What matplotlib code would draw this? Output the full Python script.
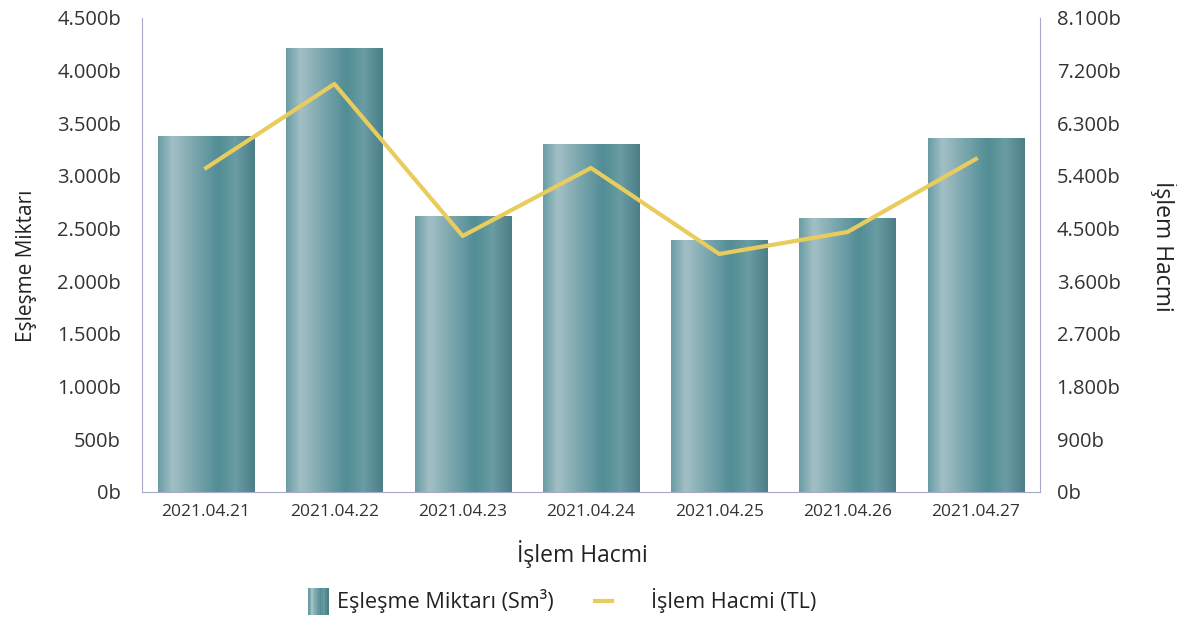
import matplotlib.pyplot as plt
import numpy as np
from matplotlib.colors import LinearSegmentedColormap
from matplotlib.legend_handler import HandlerBase
from matplotlib.patches import Rectangle
from matplotlib.lines import Line2D
from matplotlib.ticker import FuncFormatter

plt.rcParams['font.family'] = ['Open Sans', 'Noto Sans', 'DejaVu Sans']

dates = ['2021.04.21', '2021.04.22', '2021.04.23', '2021.04.24',
         '2021.04.25', '2021.04.26', '2021.04.27']
eslesme = [3380, 4215, 2620, 3304, 2392, 2601, 3361]
islem = [5537, 6972, 4375, 5537, 4067, 4443, 5690]

grad_colors = ['#6a9ca4', '#a2c0c6', '#7aa6ad', '#528d95', '#6a9ca3', '#4b7f87']
grad_cmap = LinearSegmentedColormap.from_list('bar', list(zip([0, 0.15, 0.38, 0.62, 0.8, 1.0], grad_colors)))
axis_color = '#a8a8cc'
line_color = '#e8cd5e'


def fmt(v, pos):
    return '{:,.0f}b'.format(v).replace(',', '.')


class GradientHandler(HandlerBase):
    def create_artists(self, legend, orig_handle, xdescent, ydescent, width, height, fontsize, trans):
        n = 14
        w = height * 1.32
        x0 = width - w - xdescent
        arts = []
        for i in range(n):
            r = Rectangle((x0 + i * w / n, -ydescent - 5), w / n + 0.3, height + 9,
                          facecolor=grad_cmap(i / (n - 1)), edgecolor='none', transform=trans)
            arts.append(r)
        return arts


class ShortLineHandler(HandlerBase):
    def create_artists(self, legend, orig_handle, xdescent, ydescent, width, height, fontsize, trans):
        y = height / 2 - ydescent
        ln = Line2D([-xdescent, -xdescent + width * 0.36], [y, y], color=line_color, lw=3, transform=trans)
        return [ln]


fig, ax = plt.subplots(figsize=(11.77, 6.2), dpi=100)
fig.subplots_adjust(left=0.1206, right=0.8836, top=0.971, bottom=0.2065)
ax2 = ax.twinx()

x = np.arange(len(dates))
bars = ax.bar(x, eslesme, width=0.75, color='none', edgecolor='none', zorder=2)
grad = np.linspace(0, 1, 256).reshape(1, -1)
for b in bars:
    im = ax.imshow(grad, cmap=grad_cmap, aspect='auto', zorder=2,
                   extent=[b.get_x(), b.get_x() + b.get_width(), 0, b.get_height()])
    im.set_clip_path(b)

ax2.plot(x, islem, color=line_color, lw=3, zorder=3)

ax.set_xlim(-0.5, len(dates) - 0.5)
ax.set_ylim(0, 4500)
ax.set_yticks(np.arange(0, 4501, 500))
ax2.set_ylim(0, 8100)
ax2.set_yticks(np.arange(0, 8101, 900))
ax.yaxis.set_major_formatter(FuncFormatter(fmt))
ax2.yaxis.set_major_formatter(FuncFormatter(fmt))
ax.set_xticks(x)
ax.set_xticklabels(dates)

for a in (ax, ax2):
    for s in a.spines.values():
        s.set_visible(False)
    a.tick_params(axis='both', length=0, labelsize=14.5, colors='#333333')
ax.tick_params(axis='x', labelsize=12.5, pad=9)
ax.tick_params(axis='y', pad=15)
ax2.tick_params(axis='y', pad=12)
ax.spines['left'].set_visible(True)
ax.spines['bottom'].set_visible(True)
ax2.spines['right'].set_visible(True)
ax.spines['left'].set_color(axis_color)
ax.spines['bottom'].set_color(axis_color)
ax2.spines['right'].set_color(axis_color)

ax.set_ylabel('Eşleşme Miktarı', fontsize=15, color='#222222')
ax.yaxis.set_label_coords(-0.117, 0.478)
ax2.set_ylabel('İşlem Hacmi', fontsize=16.5, color='#222222', rotation=270)
ax2.yaxis.set_label_coords(1.154, 0.519)
ax.set_xlabel('İşlem Hacmi', fontsize=16.5, color='#222222', labelpad=14)
ax.xaxis.label.set_x(0.49)

h1 = Rectangle((0, 0), 1, 1)
h2 = Line2D([0], [0])
fig.legend([h1, h2], ['Eşleşme Miktarı (Sm³)', 'İşlem Hacmi (TL)'],
           handler_map={Rectangle: GradientHandler(), Line2D: ShortLineHandler()},
           loc='center', bbox_to_anchor=(0.466, 0.031), ncol=2, frameon=False,
           fontsize=15.6, handlelength=2.2, handletextpad=0.4, columnspacing=1.9,
           labelcolor='#222222')

fig.savefig('out.png', dpi=100)
